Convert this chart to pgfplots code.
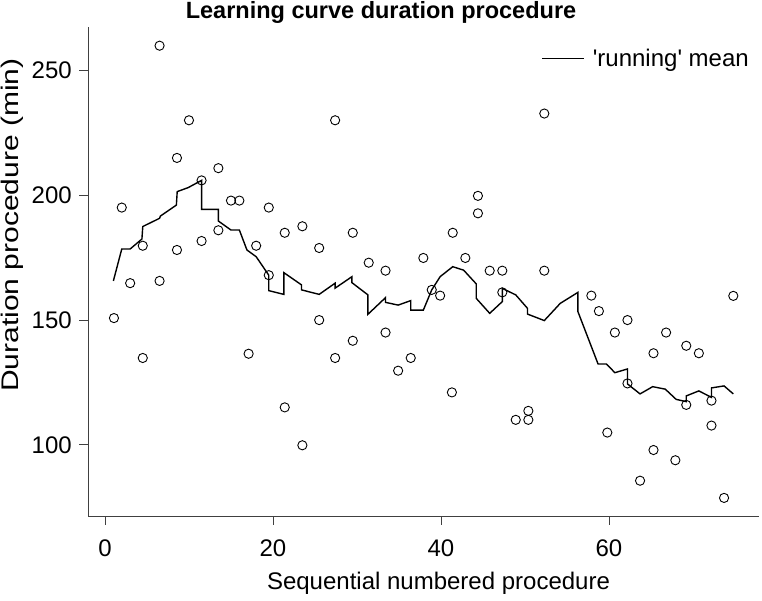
\documentclass[border=0pt]{standalone}
\usepackage{pgfplots}
\pgfplotsset{compat=1.18}
\usepackage{fontspec}
\setmainfont{Liberation Sans}
\pgfplotstableread{
x y
1.07 150.8
2.0 195.1
3.0 164.8
4.5 179.8
4.5 134.8
6.5 260.0
6.5 165.7
8.57 215.0
8.57 178.1
10.0 230.1
11.5 206.0
11.5 181.7
13.5 210.9
13.5 186.0
15.0 197.9
16.0 197.9
17.1 136.5
18.0 179.8
19.5 195.1
19.5 168.0
21.4 185.0
21.4 115.0
23.5 187.6
23.5 99.8
25.5 178.9
25.5 150.0
27.4 230.1
27.4 134.8
29.5 185.0
29.5 141.7
31.4 173.0
33.4 169.8
33.4 145.0
34.9 129.7
36.4 134.8
37.9 174.9
38.9 162.1
39.9 159.8
41.4 185.0
41.3 121.0
42.9 174.9
44.4 199.8
44.4 192.8
45.8 169.8
47.3 169.8
47.3 161.1
48.9 110.0
50.4 113.6
50.4 110.0
52.3 232.8
52.3 169.8
57.9 159.8
58.8 153.6
59.8 104.9
60.7 145.0
62.2 150.0
62.2 124.6
63.7 85.6
65.3 136.7
65.3 97.9
66.8 145.0
67.9 93.8
69.2 139.7
69.2 116.0
70.7 136.7
72.2 117.7
72.2 107.7
73.7 78.7
74.8 159.7
}\scatterdata
\pgfplotstableread{
x y
1.0 165.7
2.0 178.5
3.0 178.5
4.4 182.5
4.5 187.5
6.5 190.8
6.6 191.7
8.5 196.1
8.6 201.5
9.9 203.1
11.5 206.0
11.5 194.4
13.5 194.4
13.5 189.7
15.0 186.1
16.0 186.1
16.9 178.1
18.0 175.4
19.5 168.0
19.5 161.8
21.3 160.3
21.3 169.0
23.4 164.1
23.4 162.1
25.5 160.3
27.4 164.8
27.4 162.8
29.4 167.4
29.4 165.0
31.3 160.1
31.3 152.3
33.4 159.0
33.4 157.1
34.9 156.0
36.4 157.8
36.4 154.0
37.9 154.0
38.9 162.1
39.9 167.4
41.4 171.4
42.7 170.0
44.2 164.5
44.2 158.7
45.8 152.7
47.3 157.4
47.3 162.7
48.9 160.1
50.3 154.7
50.3 152.4
52.3 149.8
54.2 156.7
56.3 161.1
56.3 153.4
58.7 132.4
59.7 132.4
60.7 128.9
62.2 130.4
62.2 124.4
63.7 120.4
65.2 123.3
66.7 122.3
68.0 118.2
69.2 117.3
69.2 119.6
70.7 121.6
72.2 119.0
72.2 122.8
73.7 123.6
74.8 120.4
}\meandata
\begin{document}
\begin{tikzpicture}[x=1pt,y=1pt]
\useasboundingbox (0,0) rectangle (762,601);
\begin{axis}[
  at={(88pt,85pt)}, anchor=south west,
  scale only axis, width=671pt, height=489pt,
  xmin=-2.02, xmax=77.86, ymin=71.45, ymax=267.5,
  axis x line*=bottom, axis y line*=left,
  axis line style={draw=black!75, line width=0.9pt, -},
  xtick={0,20,40,60}, ytick={100,150,200,250},
  tick align=outside, major tick length=9pt,
  tick style={draw=black!75, line width=0.9pt},
  /pgf/number format/assume math mode=true,
  ticklabel style={font=\fontsize{24}{28}\selectfont},
  xticklabel style={anchor=center, yshift=-23pt},
  yticklabel style={anchor=east, xshift=-3.7pt},
  clip=false,
  legend style={draw=none, fill=none, at={(1,1)}, anchor=north east,
    xshift=-5pt, yshift=-18pt, font=\fontsize{24}{28}\selectfont,
    legend cell align=left},
  legend image code/.code={\draw[#1] (0pt,0pt) -- (42pt,0pt);},
]
\addplot[only marks, mark=o, mark size=4.6pt, mark options={line width=0.9pt, draw=black}, forget plot] table {\scatterdata};
\addplot[black, line width=1.4pt, no marks] table {\meandata};
\addlegendentry{\hspace{6pt}\textquotesingle running\textquotesingle{} mean}
\end{axis}
\node[font=\bfseries\fontsize{23.5}{27}\selectfont] at (381,589) {Learning curve duration procedure};
\node[font=\fontsize{24}{28}\selectfont] at (438.5,18) {Sequential numbered procedure};
\node[font=\fontsize{24}{28}\selectfont, rotate=90] at (12,376) {\scalebox{1.25}[1]{Duration procedure (min)}};
\end{tikzpicture}
\end{document}
